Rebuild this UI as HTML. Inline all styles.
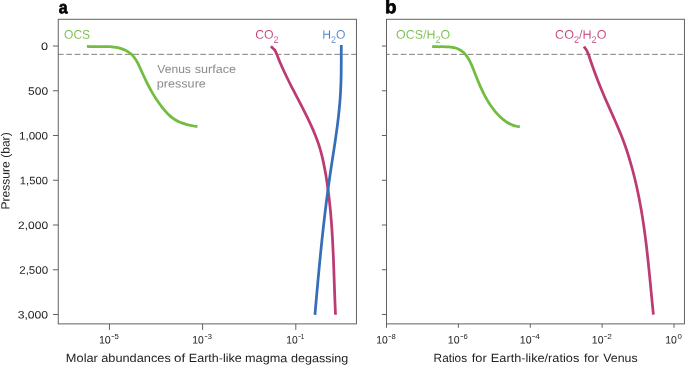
<!DOCTYPE html>
<html lang="en"><head><meta charset="utf-8"><title>Figure</title>
<style>
html,body{margin:0;padding:0;background:#fff;}
body{width:685px;height:365px;overflow:hidden;}
svg{display:block;font-family:"Liberation Sans",sans-serif;}
.t{fill:#222222;font-size:10.8px;}
.s{font-size:8px;}
.m{font-size:5.6px;font-weight:bold;}
.a{font-size:11.9px;}
.l{font-size:12.5px;stroke:#fff;stroke-width:0.11px;}
.sub{font-size:9.2px;}
.v{fill:#8c8c8c;font-size:11.7px;}
.p{font-weight:bold;font-size:17.3px;fill:#000;stroke:#000;stroke-width:0.7px;stroke-linejoin:round;}
.c{fill:none;stroke-width:2.75;stroke-linecap:butt;stroke-linejoin:round;}
.f{fill:none;stroke:#626262;stroke-width:1;}
</style></head>
<body>
<svg width="685" height="365" viewBox="0 0 685 365">
<rect width="685" height="365" fill="#fff"/>
<g id="gfx">
<rect class="f" x="58.25" y="19.28" width="298.20" height="304.60"/>
<rect class="f" x="386.50" y="19.28" width="297.95" height="304.60"/>
<path class="f" d="M52.95 46.00H58.25M381.90 46.00H386.50M52.95 90.75H58.25M381.90 90.75H386.50M52.95 135.50H58.25M381.90 135.50H386.50M52.95 180.25H58.25M381.90 180.25H386.50M52.95 225.00H58.25M381.90 225.00H386.50M52.95 269.75H58.25M381.90 269.75H386.50M52.95 314.50H58.25M381.90 314.50H386.50M109.45 323.88V329.90M202.60 323.88V329.90M295.80 323.88V329.90M386.50 323.88V327.80M458.38 323.88V327.80M530.25 323.88V327.80M602.12 323.88V327.80M674.00 323.88V327.80"/>
<path class="f" style="stroke:#6a6a6a;stroke-width:0.85" stroke-dasharray="5.8 2.58" stroke-dashoffset="0.43" d="M58.25 54.35H356.45"/>
<path class="f" style="stroke:#6a6a6a;stroke-width:0.85" stroke-dasharray="5.8 2.58" stroke-dashoffset="2.58" d="M386.50 54.35H684.45"/>
<path class="c" stroke="#72bc40" d="M86.90 46.25C87.52 46.30 89.38 46.48 90.63 46.55C91.89 46.62 93.16 46.63 94.43 46.65C95.70 46.66 96.99 46.64 98.28 46.63C99.56 46.62 100.86 46.59 102.15 46.58C103.45 46.57 104.74 46.55 106.04 46.57C107.33 46.59 108.63 46.62 109.91 46.70C111.20 46.77 112.49 46.87 113.77 47.03C115.04 47.19 116.32 47.38 117.57 47.65C118.83 47.92 120.08 48.25 121.30 48.64C122.52 49.04 123.72 49.49 124.87 50.03C126.02 50.56 127.15 51.15 128.20 51.83C129.25 52.50 130.26 53.25 131.19 54.07C132.11 54.90 132.96 55.81 133.75 56.78C134.54 57.74 135.24 58.80 135.91 59.87C136.59 60.95 137.20 62.09 137.79 63.23C138.39 64.38 138.94 65.56 139.49 66.73C140.05 67.90 140.58 69.07 141.12 70.24C141.65 71.41 142.18 72.58 142.71 73.74C143.24 74.90 143.77 76.06 144.31 77.22C144.85 78.37 145.39 79.52 145.94 80.67C146.50 81.82 147.06 82.96 147.63 84.09C148.21 85.23 148.80 86.36 149.40 87.48C150.00 88.60 150.61 89.72 151.24 90.83C151.87 91.94 152.51 93.04 153.17 94.13C153.82 95.22 154.49 96.31 155.18 97.39C155.87 98.46 156.57 99.53 157.29 100.59C158.01 101.64 158.74 102.69 159.49 103.73C160.25 104.77 161.02 105.80 161.80 106.81C162.59 107.83 163.39 108.84 164.22 109.82C165.05 110.80 165.90 111.77 166.78 112.70C167.66 113.63 168.56 114.54 169.50 115.39C170.44 116.24 171.41 117.07 172.41 117.82C173.42 118.58 174.46 119.30 175.55 119.94C176.63 120.59 177.76 121.17 178.91 121.71C180.06 122.24 181.25 122.71 182.46 123.15C183.66 123.58 184.89 123.97 186.13 124.32C187.37 124.67 188.63 124.98 189.88 125.26C191.14 125.54 192.41 125.79 193.66 126.02C194.91 126.25 196.78 126.54 197.40 126.65"/>
<path class="c" stroke="#bd3b73" d="M270.90 46.20C271.28 46.60 272.53 47.92 273.20 48.60C273.87 49.28 274.30 49.35 274.90 50.30C275.50 51.25 275.89 52.14 276.80 54.30C277.72 56.46 279.13 60.29 280.40 63.28C281.68 66.28 283.04 69.27 284.44 72.27C285.84 75.26 287.31 78.25 288.80 81.25C290.29 84.24 291.83 87.24 293.37 90.23C294.91 93.23 296.49 96.22 298.04 99.21C299.59 102.21 301.15 105.20 302.68 108.20C304.20 111.19 305.72 114.19 307.18 117.18C308.64 120.17 310.08 123.17 311.43 126.16C312.78 129.16 314.09 132.15 315.29 135.14C316.48 138.14 317.60 141.13 318.60 144.13C319.59 147.12 320.46 150.12 321.26 153.11C322.06 156.10 322.74 159.10 323.38 162.09C324.03 165.09 324.59 168.08 325.13 171.08C325.67 174.07 326.17 177.06 326.64 180.06C327.11 183.05 327.54 186.05 327.95 189.04C328.36 192.04 328.74 195.03 329.09 198.02C329.44 201.02 329.76 204.01 330.06 207.01C330.36 210.00 330.64 213.00 330.89 215.99C331.15 218.98 331.38 221.98 331.60 224.97C331.81 227.97 332.01 230.96 332.19 233.96C332.38 236.95 332.54 239.94 332.70 242.94C332.85 245.93 332.99 248.93 333.13 251.92C333.26 254.91 333.38 257.91 333.50 260.90C333.62 263.90 333.73 266.89 333.83 269.89C333.94 272.88 334.04 275.87 334.15 278.87C334.25 281.86 334.35 284.86 334.45 287.85C334.55 290.85 334.66 293.84 334.77 296.83C334.88 299.83 334.99 302.82 335.11 305.82C335.24 308.81 335.44 313.30 335.50 314.80"/>
<path class="c" stroke="#376eb8" d="M341.30 45.05C341.29 47.01 341.29 52.87 341.27 56.78C341.26 60.69 341.26 64.60 341.22 68.51C341.18 72.42 341.14 76.33 341.03 80.24C340.92 84.15 340.77 88.06 340.56 91.97C340.34 95.88 340.07 99.79 339.74 103.70C339.41 107.61 339.02 111.52 338.59 115.43C338.16 119.34 337.68 123.25 337.16 127.16C336.65 131.07 336.09 134.98 335.53 138.89C334.96 142.80 334.35 146.71 333.76 150.62C333.16 154.53 332.54 158.44 331.95 162.35C331.35 166.26 330.75 170.17 330.18 174.08C329.61 177.99 329.05 181.91 328.51 185.82C327.97 189.73 327.45 193.64 326.94 197.55C326.43 201.46 325.94 205.37 325.46 209.28C324.98 213.19 324.52 217.10 324.07 221.01C323.62 224.92 323.18 228.83 322.75 232.74C322.32 236.65 321.91 240.56 321.50 244.47C321.09 248.38 320.69 252.29 320.31 256.20C319.92 260.11 319.54 264.02 319.16 267.93C318.79 271.84 318.43 275.75 318.06 279.66C317.70 283.57 317.35 287.48 317.00 291.39C316.65 295.30 316.31 299.21 315.96 303.12C315.62 307.03 315.12 312.89 314.95 314.85"/>
<path class="c" stroke="#72bc40" d="M432.10 46.50C432.62 46.53 434.14 46.66 435.20 46.70C436.27 46.74 437.38 46.74 438.50 46.75C439.62 46.76 440.77 46.74 441.92 46.74C443.07 46.74 444.24 46.74 445.40 46.77C446.55 46.80 447.72 46.84 448.87 46.93C450.01 47.03 451.16 47.14 452.27 47.33C453.38 47.51 454.48 47.74 455.53 48.05C456.58 48.35 457.61 48.73 458.59 49.18C459.56 49.64 460.50 50.17 461.38 50.78C462.27 51.38 463.10 52.07 463.88 52.81C464.66 53.55 465.38 54.38 466.06 55.24C466.74 56.09 467.37 57.02 467.96 57.96C468.55 58.90 469.10 59.89 469.62 60.88C470.14 61.86 470.62 62.87 471.09 63.89C471.56 64.90 471.99 65.93 472.42 66.96C472.86 67.99 473.26 69.03 473.68 70.07C474.09 71.11 474.49 72.15 474.90 73.19C475.31 74.23 475.71 75.28 476.13 76.31C476.54 77.35 476.96 78.39 477.38 79.42C477.80 80.45 478.23 81.49 478.66 82.51C479.09 83.54 479.53 84.56 479.98 85.58C480.42 86.60 480.88 87.62 481.34 88.62C481.81 89.63 482.28 90.64 482.76 91.63C483.25 92.63 483.74 93.62 484.25 94.60C484.75 95.59 485.27 96.56 485.81 97.53C486.34 98.50 486.89 99.46 487.45 100.41C488.01 101.36 488.59 102.30 489.18 103.23C489.78 104.16 490.39 105.08 491.02 105.99C491.64 106.90 492.29 107.80 492.96 108.68C493.63 109.57 494.31 110.45 495.02 111.31C495.73 112.17 496.46 113.02 497.21 113.85C497.96 114.68 498.73 115.49 499.53 116.28C500.33 117.06 501.14 117.83 501.99 118.56C502.83 119.28 503.69 119.98 504.59 120.64C505.48 121.30 506.39 121.92 507.33 122.49C508.27 123.06 509.23 123.60 510.22 124.07C511.21 124.54 512.23 124.97 513.27 125.33C514.32 125.69 515.38 126.00 516.48 126.24C517.58 126.47 519.29 126.66 519.85 126.75"/>
<path class="c" stroke="#bd3b73" d="M583.90 46.60C584.38 47.27 586.05 49.32 586.80 50.60C587.55 51.88 587.63 52.19 588.40 54.30C589.18 56.41 590.41 60.28 591.45 63.28C592.50 66.27 593.57 69.26 594.67 72.25C595.78 75.24 596.91 78.24 598.09 81.23C599.26 84.22 600.48 87.21 601.72 90.20C602.96 93.20 604.24 96.19 605.53 99.18C606.83 102.17 608.15 105.16 609.47 108.16C610.79 111.15 612.14 114.14 613.47 117.13C614.79 120.12 616.12 123.11 617.40 126.11C618.68 129.10 619.94 132.09 621.13 135.08C622.32 138.07 623.46 141.07 624.53 144.06C625.61 147.05 626.62 150.04 627.59 153.03C628.56 156.03 629.48 159.02 630.35 162.01C631.23 165.00 632.06 167.99 632.85 170.99C633.64 173.98 634.40 176.97 635.12 179.96C635.84 182.95 636.52 185.95 637.17 188.94C637.83 191.93 638.44 194.92 639.04 197.91C639.63 200.91 640.18 203.90 640.72 206.89C641.25 209.88 641.76 212.87 642.24 215.87C642.73 218.86 643.18 221.85 643.62 224.84C644.06 227.83 644.48 230.83 644.88 233.82C645.28 236.81 645.66 239.80 646.03 242.79C646.39 245.79 646.74 248.78 647.08 251.77C647.42 254.76 647.75 257.75 648.07 260.74C648.39 263.74 648.69 266.73 649.00 269.72C649.30 272.71 649.59 275.70 649.88 278.70C650.18 281.69 650.46 284.68 650.75 287.67C651.04 290.66 651.33 293.66 651.62 296.65C651.91 299.64 652.20 302.63 652.50 305.62C652.79 308.62 653.25 313.10 653.40 314.60"/>
</g>
<text id="pa" class="p"  transform="rotate(0.035 58.83 13.20)" x="58.83" y="13.20" textLength="8.89" lengthAdjust="spacingAndGlyphs">a</text>
<text id="pb" class="p" style="font-size:18.4px" transform="rotate(0.035 385.14 13.20)" x="385.14" y="13.20" textLength="11.54" lengthAdjust="spacingAndGlyphs">b</text>
<text id="y0" class="t"  transform="rotate(0.035 41.10 50.10)" x="41.10" y="50.10" textLength="7.03" lengthAdjust="spacingAndGlyphs">0</text>
<text id="y1" class="t"  transform="rotate(0.035 28.12 94.85)" x="28.12" y="94.85" textLength="19.99" lengthAdjust="spacingAndGlyphs">500</text>
<text id="y2" class="t"  transform="rotate(0.035 18.91 139.60)" x="18.91" y="139.60" textLength="29.21" lengthAdjust="spacingAndGlyphs">1,000</text>
<text id="y3" class="t"  transform="rotate(0.035 19.87 184.35)" x="19.87" y="184.35" textLength="28.03" lengthAdjust="spacingAndGlyphs">1,500</text>
<text id="y4" class="t"  transform="rotate(0.035 18.08 229.10)" x="18.08" y="229.10" textLength="29.99" lengthAdjust="spacingAndGlyphs">2,000</text>
<text id="y5" class="t"  transform="rotate(0.035 19.23 273.85)" x="19.23" y="273.85" textLength="28.95" lengthAdjust="spacingAndGlyphs">2,500</text>
<text id="y6" class="t"  transform="rotate(0.035 17.68 318.60)" x="17.68" y="318.60" textLength="30.46" lengthAdjust="spacingAndGlyphs">3,000</text>
<text id="x0" class="t"  transform="rotate(0.035 98.88 343.50)" x="98.88" y="343.50" textLength="11.91" lengthAdjust="spacingAndGlyphs">10</text>
<text id="s0" class="t s"  x="111.25" y="339.40" textLength="7.47" lengthAdjust="spacingAndGlyphs"><tspan class="m" dy="-1.2">−</tspan><tspan dy="1.2">5</tspan></text>
<text id="x1" class="t"  transform="rotate(0.035 192.20 343.50)" x="192.20" y="343.50" textLength="11.51" lengthAdjust="spacingAndGlyphs">10</text>
<text id="s1" class="t s"  x="204.58" y="339.40" textLength="7.25" lengthAdjust="spacingAndGlyphs"><tspan class="m" dy="-1.2">−</tspan><tspan dy="1.2">3</tspan></text>
<text id="x2" class="t"  transform="rotate(0.035 286.23 343.50)" x="286.23" y="343.50" textLength="11.44" lengthAdjust="spacingAndGlyphs">10</text>
<text id="s2" class="t s"  x="298.21" y="339.40" textLength="6.28" lengthAdjust="spacingAndGlyphs"><tspan class="m" dy="-1.2">−</tspan><tspan dy="1.2">1</tspan></text>
<text id="x3" class="t"  transform="rotate(0.035 376.30 343.50)" x="376.30" y="343.50" textLength="11.52" lengthAdjust="spacingAndGlyphs">10</text>
<text id="s3" class="t s"  x="388.30" y="339.40" textLength="7.35" lengthAdjust="spacingAndGlyphs"><tspan class="m" dy="-1.2">−</tspan><tspan dy="1.2">8</tspan></text>
<text id="x4" class="t"  transform="rotate(0.035 447.87 343.50)" x="447.87" y="343.50" textLength="11.75" lengthAdjust="spacingAndGlyphs">10</text>
<text id="s4" class="t s"  x="460.27" y="339.40" textLength="7.38" lengthAdjust="spacingAndGlyphs"><tspan class="m" dy="-1.2">−</tspan><tspan dy="1.2">6</tspan></text>
<text id="x5" class="t"  transform="rotate(0.035 519.79 343.50)" x="519.79" y="343.50" textLength="11.74" lengthAdjust="spacingAndGlyphs">10</text>
<text id="s5" class="t s"  x="531.90" y="339.40" textLength="7.91" lengthAdjust="spacingAndGlyphs"><tspan class="m" dy="-1.2">−</tspan><tspan dy="1.2">4</tspan></text>
<text id="x6" class="t"  transform="rotate(0.035 591.85 343.50)" x="591.85" y="343.50" textLength="11.65" lengthAdjust="spacingAndGlyphs">10</text>
<text id="s6" class="t s"  x="603.89" y="339.40" textLength="7.90" lengthAdjust="spacingAndGlyphs"><tspan class="m" dy="-1.2">−</tspan><tspan dy="1.2">2</tspan></text>
<text id="x7" class="t"  transform="rotate(0.035 665.21 343.50)" x="665.21" y="343.50" textLength="11.63" lengthAdjust="spacingAndGlyphs">10</text>
<text id="s7" class="t s"  x="677.39" y="339.40" textLength="4.40" lengthAdjust="spacingAndGlyphs">0</text>
<text id="yl" class="t a"  transform="rotate(-89.96 0 0)" x="-209.58" y="9.60" textLength="77.25" lengthAdjust="spacingAndGlyphs">Pressure (bar)</text>
<text id="xla" class="t a"  transform="rotate(0.035 66.70 362.00)" y="362.00"><tspan id="xla_0" x="65.86" textLength="31.99" lengthAdjust="spacingAndGlyphs">Molar</tspan> <tspan id="xla_1" x="101.21" textLength="69.56" lengthAdjust="spacingAndGlyphs">abundances</tspan> <tspan id="xla_2" x="174.00" textLength="11.19" lengthAdjust="spacingAndGlyphs">of</tspan> <tspan id="xla_3" x="188.85" textLength="52.95" lengthAdjust="spacingAndGlyphs">Earth-like</tspan> <tspan id="xla_4" x="245.06" textLength="42.26" lengthAdjust="spacingAndGlyphs">magma</tspan> <tspan id="xla_5" x="291.00" textLength="57.33" lengthAdjust="spacingAndGlyphs">degassing</tspan></text>
<text id="xlb" class="t a"  transform="rotate(0.035 434.00 362.00)" y="362.00"><tspan id="xlb_0" x="433.60" textLength="33.50" lengthAdjust="spacingAndGlyphs">Ratios</tspan> <tspan id="xlb_1" x="471.78" textLength="14.97" lengthAdjust="spacingAndGlyphs">for</tspan> <tspan id="xlb_2" x="490.84" textLength="88.42" lengthAdjust="spacingAndGlyphs">Earth-like/ratios</tspan> <tspan id="xlb_3" x="584.02" textLength="14.75" lengthAdjust="spacingAndGlyphs">for</tspan> <tspan id="xlb_4" x="603.24" textLength="34.32" lengthAdjust="spacingAndGlyphs">Venus</tspan></text>
<text id="l1" class="l" fill="#6ebc40" transform="rotate(0.035 64.06 38.80)" x="64.06" y="38.80" textLength="26.05" lengthAdjust="spacingAndGlyphs">OCS</text>
<text id="l2" class="l" fill="#c23a74" transform="rotate(0.035 255.16 38.80)" x="255.16" y="38.80" textLength="23.53" lengthAdjust="spacingAndGlyphs">CO<tspan class="sub" dy="3.9">2</tspan></text>
<text id="l3" class="l" fill="#4a82cc" transform="rotate(0.035 322.30 38.80)" x="322.30" y="38.80" textLength="23.23" lengthAdjust="spacingAndGlyphs">H<tspan class="sub" dy="3.9">2</tspan><tspan dy="-3.9">O</tspan></text>
<text id="l4" class="l" fill="#6ebc40" transform="rotate(0.035 396.09 38.80)" x="396.09" y="38.80" textLength="54.09" lengthAdjust="spacingAndGlyphs">OCS/H<tspan class="sub" dy="3.9">2</tspan><tspan dy="-3.9">O</tspan></text>
<text id="l5" class="l" fill="#c23a74" transform="rotate(0.035 555.10 38.80)" x="555.10" y="38.80" textLength="51.41" lengthAdjust="spacingAndGlyphs">CO<tspan class="sub" dy="3.9">2</tspan><tspan dy="-3.9">/H</tspan><tspan class="sub" dy="3.9">2</tspan><tspan dy="-3.9">O</tspan></text>
<text id="v1" class="v"  transform="rotate(0.035 157.20 73.00)" y="73.00"><tspan id="v1_0" x="157.37" textLength="33.54" lengthAdjust="spacingAndGlyphs">Venus</tspan> <tspan id="v1_1" x="194.71" textLength="41.42" lengthAdjust="spacingAndGlyphs">surface</tspan></text>
<text id="v2" class="v"  transform="rotate(0.035 156.74 87.50)" x="156.74" y="87.50" textLength="49.16" lengthAdjust="spacingAndGlyphs">pressure</text>
</svg>
</body></html>
